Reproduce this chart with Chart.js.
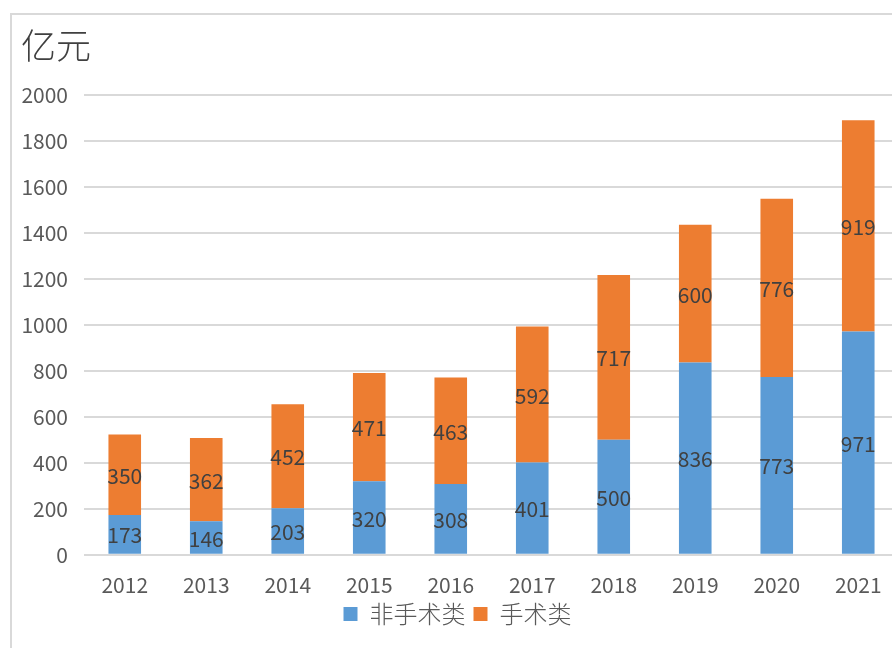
<!DOCTYPE html>
<html>
<head>
<meta charset="utf-8">
<script src="https://cdn.jsdelivr.net/npm/chart.js@4/dist/chart.umd.min.js"></script>
<style>
  html, body { margin: 0; padding: 0; background: #ffffff; overflow: hidden; width: 892px; height: 648px; }
  #frame { position: absolute; left: 10px; top: 13px; width: 900px; height: 700px;
           border-left: 2px solid #d9d9d9; border-top: 2px solid #d9d9d9; }
  #wrap { position: absolute; left: 0; top: 0; width: 900px; height: 648px; }
  #unit { position: absolute; left: 21px; top: 22px; font-family: "Noto Sans CJK SC", sans-serif;
          font-size: 35px; font-weight: 300; color: #404040; line-height: 44px; }
</style>
</head>
<body>
<div id="frame"></div>
<div id="wrap"><canvas id="c"></canvas></div>
<div id="unit">亿元</div>
<script>
const years = ["2012","2013","2014","2015","2016","2017","2018","2019","2020","2021"];
const nonSurgical = [173, 146, 203, 320, 308, 401, 500, 836, 773, 971];
const surgical    = [350, 362, 452, 471, 463, 592, 717, 600, 776, 919];
const seriesNames = ["非手术类", "手术类"];
const yTicks = [0, 200, 400, 600, 800, 1000, 1200, 1400, 1600, 1800, 2000];

const FONT = '"Noto Sans CJK SC", "Noto Sans", sans-serif';

const barLabels = {
  id: 'barLabels',
  afterDatasetsDraw(chart) {
    const ctx = chart.ctx;
    ctx.save();
    ctx.font = '21px ' + FONT;
    ctx.fillStyle = '#404040';
    ctx.textAlign = 'center';
    ctx.textBaseline = 'middle';
    chart.data.datasets.forEach((ds, di) => {
      const meta = chart.getDatasetMeta(di);
      meta.data.forEach((bar, i) => {
        const y = (bar.y + bar.base) / 2;
        ctx.fillText(String(ds.data[i]), bar.x, y + 1);
      });
    });
    ctx.restore();
  }
};

const legendShift = {
  id: 'legendShift',
  afterLayout(chart) {
    if (chart.legend) { chart.legend.left += 8; chart.legend.right += 8; }
  }
};

new Chart(document.getElementById('c'), {
  type: 'bar',
  data: {
    labels: years,
    datasets: [
      { label: seriesNames[0], data: nonSurgical, backgroundColor: '#5B9BD5', borderWidth: 0 },
      { label: seriesNames[1], data: surgical, backgroundColor: '#ED7D31', borderWidth: 0 }
    ]
  },
  options: {
    responsive: true,
    maintainAspectRatio: false,
    animation: false,
    datasets: { bar: { categoryPercentage: 1.0, barPercentage: 0.4 } },
    layout: { padding: { top: 95, right: 1, bottom: 12, left: 0 } },
    plugins: {
      legend: {
        position: 'bottom',
        labels: {
          boxWidth: 14, boxHeight: 14, padding: 8,
          color: '#595959', font: { family: FONT, size: 24, weight: 300 }
        }
      },
      tooltip: { enabled: false },
      title: { display: false }
    },
    scales: {
      x: {
        stacked: true,
        afterFit(s) { s.height -= 22; },
        grid: { display: false, drawTicks: false },
        border: { display: false },
        ticks: { color: '#595959', font: { family: FONT, size: 21 }, padding: 18, maxRotation: 0 }
      },
      y: {
        stacked: true,
        min: 0, max: 2000,
        afterFit(s) { s.width = 84; },
        afterBuildTicks(s) { s.ticks = yTicks.map(v => ({ value: v })); },
        grid: { color: '#d9d9d9', lineWidth: 2, drawTicks: false },
        border: { display: false },
        ticks: { color: '#595959', font: { family: FONT, size: 21 }, padding: 16,
                 callback: (v) => String(v) }
      }
    }
  },
  plugins: [barLabels, legendShift]
});
</script>
</body>
</html>
